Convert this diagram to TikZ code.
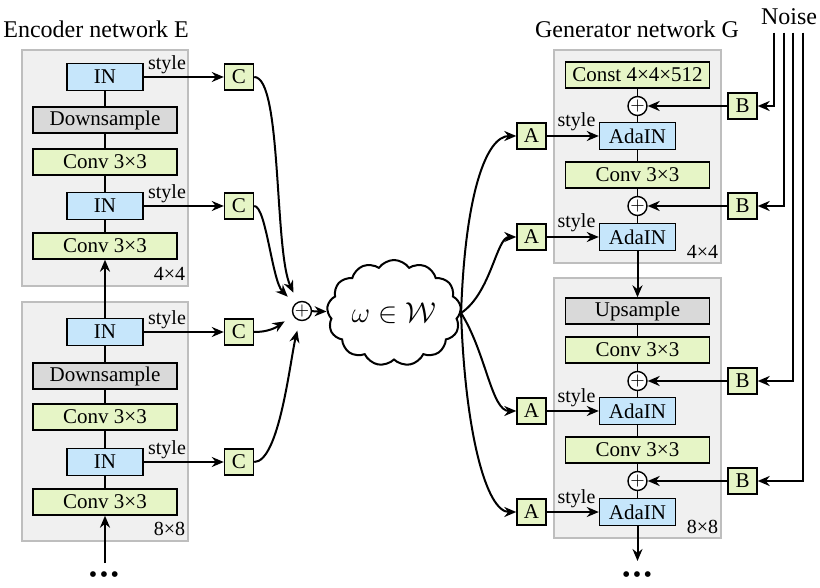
\documentclass[tikz,border=0pt]{standalone}
\usepackage{fontspec}
\setmainfont{Liberation Serif}
\usetikzlibrary{arrows.meta,shapes.symbols,positioning}

\definecolor{convgreen}{HTML}{E6F5C6}
\definecolor{normblue}{HTML}{C6E6FB}
\definecolor{samplegray}{HTML}{D9D9D9}
\definecolor{blockfill}{HTML}{F0F0F0}
\definecolor{blockline}{HTML}{BEBEBE}

\tikzset{
  box/.style={draw, line width=0.7pt, inner sep=0pt, font=\fontsize{10.5}{12}\selectfont},
  convbox/.style={box, fill=convgreen, minimum width=72pt, minimum height=13pt},
  samplebox/.style={box, fill=samplegray, minimum width=72pt, minimum height=13pt},
  normbox/.style={box, fill=normblue, minimum width=38pt, minimum height=13.5pt},
  smallbox/.style={box, fill=convgreen, minimum width=14.5pt, minimum height=13pt},
  addnode/.style={draw, circle, fill=white, line width=0.7pt, minimum size=9.5pt, inner sep=0pt, font=\fontsize{9}{9}\selectfont},
  blockbg/.style={draw=blockline, fill=blockfill, line width=0.6pt, inner sep=0pt},
  arr/.style={-{Stealth[length=6pt,width=5pt]}, line width=1pt},
  link/.style={line width=0.8pt},
  lbl/.style={font=\fontsize{10}{12}\selectfont, inner sep=0pt},
  title/.style={font=\fontsize{12}{14}\selectfont, inner sep=0pt},
  dots/.style={font=\fontsize{12}{12}\selectfont, inner sep=0pt, anchor=base},
}

\begin{document}
\begin{tikzpicture}[x=0.5pt, y=-0.5pt]
\useasboundingbox[fill=white] (0,0) rectangle (820,588);

% blocks
\node[blockbg, minimum width=83pt, minimum height=118pt] (enc1) at (105,168) {};
\node[blockbg, minimum width=83pt, minimum height=119.5pt] (enc2) at (105,421.5) {};
\node[blockbg, minimum width=83.5pt, minimum height=106.5pt] (gen1) at (637.5,156.5) {};
\node[blockbg, minimum width=83.5pt, minimum height=130pt] (gen2) at (637.5,408) {};

\node[title, anchor=base west] (enctitle) at (3,38) {Encoder network E};
\node[title, anchor=base] (gentitle) at (637,38) {Generator network G};
\node[title, anchor=base] (noise) at (789,25) {Noise};

% encoder
\node[normbox] (in1) at (105,77) {IN};
\node[samplebox] (down1) at (105,120) {Downsample};
\node[convbox] (conv1) at (105,162) {Conv 3×3};
\node[normbox] (in2) at (105,206) {IN};
\node[convbox] (conv2) at (105,246) {Conv 3×3};

\node[normbox] (in3) at (105,332) {IN};
\node[samplebox] (down2) at (105,376) {Downsample};
\node[convbox] (conv3) at (105,417) {Conv 3×3};
\node[normbox] (in4) at (105,462) {IN};
\node[convbox] (conv4) at (105,502) {Conv 3×3};

\node[lbl, anchor=south east] (enc1-res) at ([shift={(-3,-6)}]enc1.south east) {4×4};
\node[lbl, anchor=south east] (enc2-res) at ([shift={(-3,-6)}]enc2.south east) {8×8};

\node[smallbox] (c1) at (239,77) {C};
\node[smallbox] (c2) at (239,206) {C};
\node[smallbox] (c3) at (239,332) {C};
\node[smallbox] (c4) at (239,462) {C};

\draw[link] (conv2) -- (in2) -- (conv1) -- (down1) -- (in1);
\draw[link] (conv4) -- (in4) -- (conv3) -- (down2) -- (in3);
\draw[arr] (in3) -- (conv2);
\coordinate (encin) at (105,563);
\draw[arr] (encin) -- (conv4);
\node[dots] (encdots) at (104,582) {•\kern1.2pt•\kern1.2pt•};

\foreach \i in {1,...,4} {
  \draw[arr] (in\i) -- (c\i);
  \node[lbl, anchor=base west] (in\i-style) at ([shift={(4,-7)}]in\i.east) {style};
}

% mapping
\node[addnode] (addc) at (302,311) {$+$};
\node[cloud, draw, fill=white, line width=1pt, cloud puffs=13, cloud puff arc=110,
  aspect=1.3, minimum width=67pt, minimum height=53pt, inner sep=0pt,
  font=\fontsize{15}{17}\selectfont] (wspace) at (394,313) {$\omega\in\mathcal{W}$};

\draw[arr, shorten >=5pt] (c1.east) .. controls +(28,0) and +(-28,-60) .. (addc);
\draw[arr, shorten >=5pt] (c2.east) .. controls +(12,0) and +(-30,-30) .. (addc);
\draw[arr, shorten >=5pt] (c3.east) .. controls +(20,0) and +(-20,12) .. (addc);
\draw[arr, shorten >=5pt] (c4.east) .. controls +(25,0) and +(-12,50) .. (addc);
\draw[arr] (addc) -- (wspace);

% generator
\node[convbox] (const) at (637.5,75) {Const 4×4×512};
\node[addnode] (add1) at (637.5,106) {$+$};
\node[normbox] (ada1) at (637.5,136) {AdaIN};
\node[convbox] (gconv1) at (637.5,175) {Conv 3×3};
\node[addnode] (add2) at (637.5,206) {$+$};
\node[normbox] (ada2) at (637.5,237) {AdaIN};

\node[samplebox] (up) at (637.5,311) {Upsample};
\node[convbox] (gconv2) at (637.5,350) {Conv 3×3};
\node[addnode] (add3) at (637.5,381) {$+$};
\node[normbox] (ada3) at (637.5,411) {AdaIN};
\node[convbox] (gconv3) at (637.5,450) {Conv 3×3};
\node[addnode] (add4) at (637.5,481) {$+$};
\node[normbox] (ada4) at (637.5,512) {AdaIN};

\node[lbl, anchor=south east] (gen1-res) at ([shift={(-3,-5)}]gen1.south east) {4×4};
\node[lbl, anchor=south east] (gen2-res) at ([shift={(-3,-5)}]gen2.south east) {8×8};

\node[smallbox] (a1) at (531.5,136) {A};
\node[smallbox] (a2) at (531.5,237) {A};
\node[smallbox] (a3) at (531.5,411) {A};
\node[smallbox] (a4) at (531.5,512) {A};
\node[smallbox] (b1) at (742.5,106) {B};
\node[smallbox] (b2) at (742.5,206) {B};
\node[smallbox] (b3) at (742.5,381) {B};
\node[smallbox] (b4) at (742.5,481) {B};

\draw[link] (const) -- (add1) -- (ada1) -- (gconv1) -- (add2) -- (ada2);
\draw[arr] (ada2) -- (up);
\draw[link] (up) -- (gconv2) -- (add3) -- (ada3) -- (gconv3) -- (add4) -- (ada4);
\coordinate (genout) at (637.5,561);
\draw[arr] (ada4) -- (genout);
\node[dots] (gendots) at (637,582) {•\kern1.2pt•\kern1.2pt•};

\foreach \i/\dx in {1/-15,2/-5,3/4,4/14} {
  \draw[arr] (b\i) -- (add\i);
  \draw[arr] (a\i) -- (ada\i);
  \node[lbl, anchor=base east] (ada\i-style) at ([shift={(-3,-9)}]ada\i.west) {style};
  \draw[arr] ([shift={(\dx,7)}]noise.south) |- (b\i);
}

\draw[arr] (wspace.east) .. controls +(4,-120) and +(-45,0) .. (a1);
\draw[arr] (wspace.east) .. controls +(30,-20) and +(-35,0) .. (a2);
\draw[arr] (wspace.east) .. controls +(25,40) and +(-40,0) .. (a3);
\draw[arr] (wspace.east) .. controls +(4,120) and +(-45,0) .. (a4);
\end{tikzpicture}
\end{document}
